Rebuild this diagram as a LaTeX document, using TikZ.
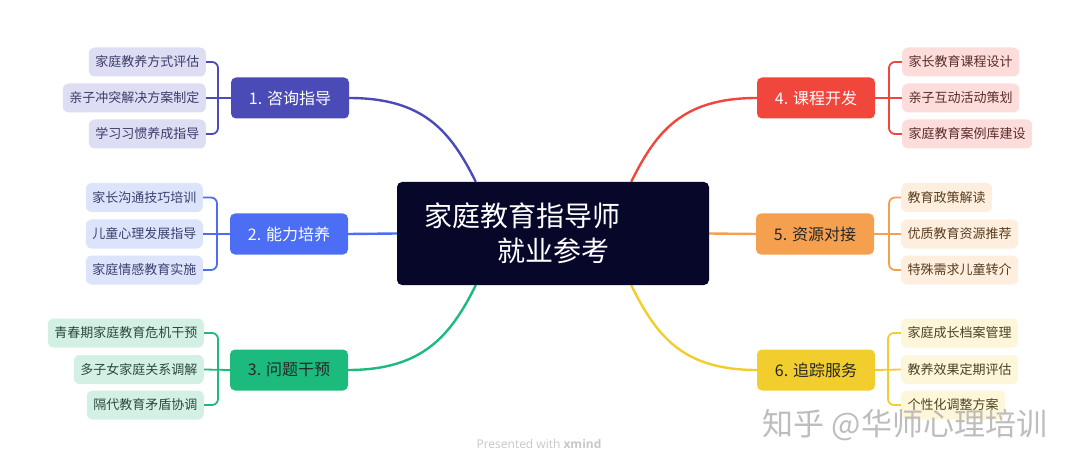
\documentclass[tikz,border=0pt]{standalone}
\usepackage{fontspec}
\setmainfont{Noto Sans CJK SC}
\newfontfamily\latinfont{Open Sans}
\usetikzlibrary{positioning,backgrounds,calc}
\definecolor{HubDark}{HTML}{07072A}
\definecolor{ConsultMain}{HTML}{4B4BB8}
\definecolor{ConsultLeaf}{HTML}{DDDDF3}
\definecolor{ConsultText}{HTML}{3C3C6A}
\definecolor{SkillMain}{HTML}{4C6EF5}
\definecolor{SkillLeaf}{HTML}{DCE4FC}
\definecolor{SkillText}{HTML}{39406E}
\definecolor{CrisisMain}{HTML}{1DBA7E}
\definecolor{CrisisLeaf}{HTML}{D2F1E4}
\definecolor{CrisisText}{HTML}{2B4A3D}
\definecolor{CourseMain}{HTML}{F0463C}
\definecolor{CourseLeaf}{HTML}{FDDDDB}
\definecolor{CourseText}{HTML}{5A2B28}
\definecolor{ResourceMain}{HTML}{F5A04E}
\definecolor{ResourceLeaf}{HTML}{FDEEDD}
\definecolor{ResourceText}{HTML}{5A3C20}
\definecolor{TrackMain}{HTML}{F2CD2E}
\definecolor{TrackLeaf}{HTML}{FDF6D9}
\definecolor{TrackText}{HTML}{4A4222}
\tikzset{
  hub node/.style={fill=HubDark,rounded corners=5pt,text=white,align=left,
    text width=258pt,inner xsep=27pt,minimum height=103pt,
    font=\fontsize{28}{35}\selectfont},
  topic node/.style={rounded corners=5pt,minimum width=118pt,minimum height=41pt,
    inner sep=0pt,font=\fontsize{16}{18}\selectfont},
  leaf node/.style={rounded corners=6pt,minimum height=29pt,inner xsep=6.5pt,
    inner ysep=0pt,font=\fontsize{13}{15}\selectfont},
  branch line/.style={line width=2.4pt},
  leaf line/.style={line width=1.8pt,rounded corners=6pt}
}

\begin{document}
\begin{tikzpicture}[x=1pt,y=-1pt]
  \useasboundingbox (0,0) rectangle (1080,468);
  % central topic
  \node[hub node] (hub) at (553,233.5) {家庭教育指导师\\\hspace*{73pt}就业参考};
  \coordinate (hubA) at ($(hub.north west)+(79,0)$);
  \coordinate (hubB) at ($(hub.north east)+(-78,0)$);
  \coordinate (hubC) at ($(hub.south west)+(79,0)$);
  \coordinate (hubD) at ($(hub.south east)+(-78,0)$);
  % main topics
  \node[topic node,fill=ConsultMain,text=white] (m1) at (290,98) {1. 咨询指导};
  \node[topic node,fill=SkillMain,text=white] (m2) at (289,234) {2. 能力培养};
  \node[topic node,fill=CrisisMain,text=black!85] (m3) at (289,370) {3. 问题干预};
  \node[topic node,fill=CourseMain,text=white] (m4) at (816,98) {4. 课程开发};
  \node[topic node,fill=ResourceMain,text=black!85] (m5) at (815,234) {5. 资源对接};
  \node[topic node,fill=TrackMain,text=black!85] (m6) at (816,370) {6. 追踪服务};
  % leaves, left side
  \node[leaf node,fill=ConsultLeaf,text=ConsultText,anchor=east] (l11) at (206,62) {家庭教养方式评估};
  \node[leaf node,fill=ConsultLeaf,text=ConsultText,anchor=east] (l12) at (206,98) {亲子冲突解决方案制定};
  \node[leaf node,fill=ConsultLeaf,text=ConsultText,anchor=east] (l13) at (206,134) {学习习惯养成指导};
  \node[leaf node,fill=SkillLeaf,text=SkillText,anchor=east] (l21) at (203,197.5) {家长沟通技巧培训};
  \node[leaf node,fill=SkillLeaf,text=SkillText,anchor=east] (l22) at (203,234) {儿童心理发展指导};
  \node[leaf node,fill=SkillLeaf,text=SkillText,anchor=east] (l23) at (203,270) {家庭情感教育实施};
  \node[leaf node,fill=CrisisLeaf,text=CrisisText,anchor=east] (l31) at (204,333) {青春期家庭教育危机干预};
  \node[leaf node,fill=CrisisLeaf,text=CrisisText,anchor=east] (l32) at (204,369.5) {多子女家庭关系调解};
  \node[leaf node,fill=CrisisLeaf,text=CrisisText,anchor=east] (l33) at (204,405) {隔代教育矛盾协调};
  % leaves, right side
  \node[leaf node,fill=CourseLeaf,text=CourseText,anchor=west] (l41) at (902,62) {家长教育课程设计};
  \node[leaf node,fill=CourseLeaf,text=CourseText,anchor=west] (l42) at (902,98) {亲子互动活动策划};
  \node[leaf node,fill=CourseLeaf,text=CourseText,anchor=west] (l43) at (902,134) {家庭教育案例库建设};
  \node[leaf node,fill=ResourceLeaf,text=ResourceText,anchor=west] (l51) at (901,197.5) {教育政策解读};
  \node[leaf node,fill=ResourceLeaf,text=ResourceText,anchor=west] (l52) at (901,234) {优质教育资源推荐};
  \node[leaf node,fill=ResourceLeaf,text=ResourceText,anchor=west] (l53) at (901,270) {特殊需求儿童转介};
  \node[leaf node,fill=TrackLeaf,text=TrackText,anchor=west] (l61) at (901,333) {家庭成长档案管理};
  \node[leaf node,fill=TrackLeaf,text=TrackText,anchor=west] (l62) at (901,369.5) {教养效果定期评估};
  \node[leaf node,fill=TrackLeaf,text=TrackText,anchor=west] (l63) at (901,405) {个性化调整方案};
  % junctions
  \coordinate (j1) at (218,98);  \coordinate (j2) at (217,234);  \coordinate (j3) at (218,369.5);
  \coordinate (j4) at (889,98);  \coordinate (j5) at (889,234);  \coordinate (j6) at (888,369.5);
  \begin{scope}[on background layer]
    \draw[branch line,ConsultMain] (m1.east) .. controls +(75,0) and +(-25,-50) .. (hubA);
    \draw[branch line,SkillMain] (m2.east) -- (hub.west);
    \draw[branch line,CrisisMain] (m3.east) .. controls +(75,0) and +(-25,50) .. (hubC);
    \draw[branch line,CourseMain] (m4.west) .. controls +(-75,0) and +(25,-50) .. (hubB);
    \draw[branch line,ResourceMain] (m5.west) -- (hub.east);
    \draw[branch line,TrackMain] (m6.west) .. controls +(-75,0) and +(25,50) .. (hubD);
    \draw[leaf line,ConsultMain] (l11.east) -| (j1) |- (l13.east) (l12.east) -- (m1.west);
    \draw[leaf line,SkillMain] (l21.east) -| (j2) |- (l23.east) (l22.east) -- (m2.west);
    \draw[leaf line,CrisisMain] (l31.east) -| (j3) |- (l33.east) (l32.east) -- (m3.west);
    \draw[leaf line,CourseMain] (l41.west) -| (j4) |- (l43.west) (l42.west) -- (m4.east);
    \draw[leaf line,ResourceMain] (l51.west) -| (j5) |- (l53.west) (l52.west) -- (m5.east);
    \draw[leaf line,TrackMain] (l61.west) -| (j6) |- (l63.west) (l62.west) -- (m6.east);
  \end{scope}
  \node[text=black!22,font=\latinfont\fontsize{12}{14}\selectfont] (credit) at (539,444)
    {Presented with \textbf{xmind}};
  \node[text=black!30,font=\fontsize{31}{34}\selectfont,opacity=0.85] (mark) at (905,425)
    {知乎 @华师心理培训};
\end{tikzpicture}
\end{document}
